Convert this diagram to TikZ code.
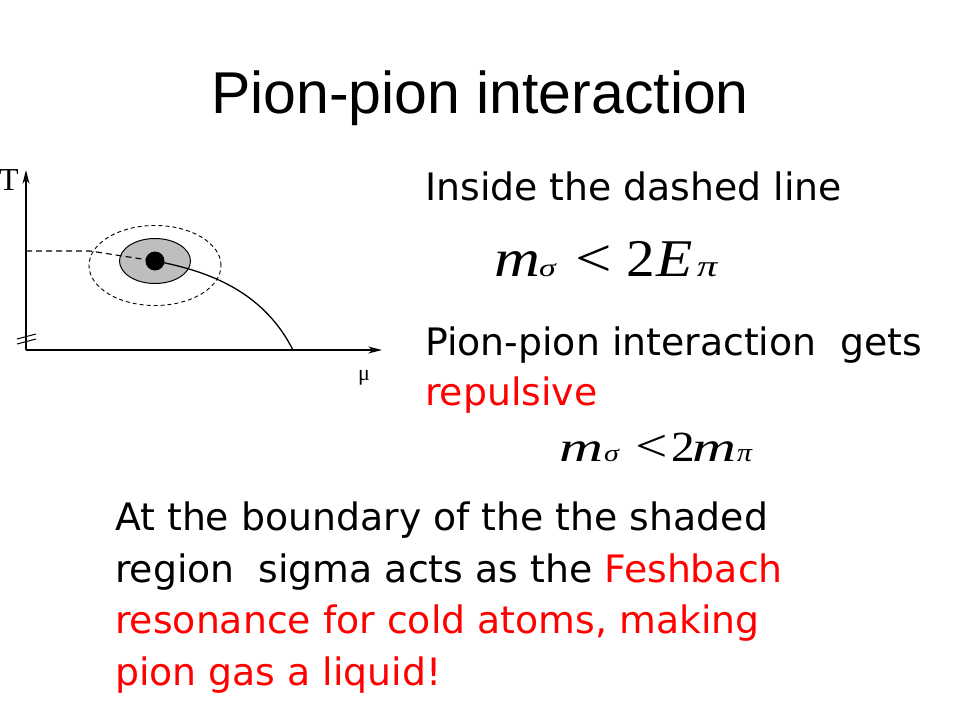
\documentclass[tikz,border=0pt]{standalone}
\usepackage{fontspec}
\usetikzlibrary{arrows.meta,shapes.geometric}
\setmainfont{Liberation Sans}
\newfontfamily\bodyfont{DejaVu Sans}
\newfontfamily\mathserif{Liberation Serif}
\definecolor{slidered}{RGB}{255,0,0}
\definecolor{shadegray}{RGB}{190,190,190}
\newcommand{\gl}[2]{\scalebox{#1}[1]{#2}}
\newcommand{\fsz}[1]{\fontsize{#1}{#1}\selectfont}
\begin{document}
\begin{tikzpicture}[x=1pt,y=-1pt,
  body/.style={anchor=base west,inner sep=0pt,font=\bodyfont\fontsize{37.8}{45}\selectfont},
  redbody/.style={body,text=slidered},
  eqit/.style={anchor=base west,inner sep=0pt,font=\mathserif\itshape},
  equp/.style={anchor=base west,inner sep=0pt,font=\mathserif},
  axis/.style={line width=1.3pt,-{Stealth[length=14pt,width=7pt]}},
  thin dash/.style={line width=0.9pt,dash pattern=on 4pt off 3pt}]
\useasboundingbox (0,0) rectangle (960,720);

% title
\node[anchor=base,inner sep=0pt,font=\fontsize{59}{66}\selectfont] (title) at (480,113) {Pion-pion interaction};

% diagram
\coordinate (origin) at (26,350);
\coordinate (ytip) at (26,170);
\coordinate (xtip) at (382,350);
\draw[axis] (origin) -- (ytip);
\draw[axis] (origin) -- (xtip);
\node[inner sep=0pt,font=\mathserif\fontsize{32}{36}\selectfont] (Tlab) at (9,180) {T};
\node[anchor=base,inner sep=0pt,font=\mathserif\fontsize{22}{26}\selectfont] (mulab) at (364,380) {μ};
\coordinate (s1a) at (17,339); \coordinate (s1b) at (36,334);
\coordinate (s2a) at (17,344); \coordinate (s2b) at (36,339);
\draw[line width=1pt] (s1a) -- (s1b);
\draw[line width=1pt] (s2a) -- (s2b);

\node[draw,line width=1pt,fill=shadegray,ellipse,minimum width=71pt,minimum height=45pt,inner sep=0pt] (shade) at (155,261) {};
\node[draw,thin dash,ellipse,minimum width=132pt,minimum height=80pt,inner sep=0pt] (dashed) at (155,265.5) {};
\node[circle,fill=black,minimum size=19pt,inner sep=0pt] (cp) at (155,261) {};

\coordinate (dstart) at (26,251);
\coordinate (dbend) at (90,251);
\draw[line width=1.1pt,dash pattern=on 6pt off 4pt] (dstart) -- (dbend) -- (cp.center);
\coordinate (xend) at (293,350);
\draw[line width=1.3pt] (cp.center) .. controls (215,272) and (265,295) .. (xend);

% right text
\node[body] (inside) at (425,200) {Inside the dashed line};
% equation 1: m_sigma < 2 E_pi
\node[eqit] (e1m) at (494,276) {\fsz{53}\gl{1.2}{m}};
\node[eqit] (e1s) at (539,276) {\fsz{25}\gl{1.35}{σ}};
\node[equp] (e1lt) at (575,276) {\fsz{54}\gl{1.2}{<}};
\node[equp] (e1two) at (626,276) {\fsz{53}\gl{1.08}{2}};
\node[eqit] (e1E) at (656,276) {\fsz{53}\gl{1.12}{E}};
\node[eqit] (e1p) at (697,276) {\fsz{30}\gl{1.35}{π}};

\node[body] (gets) at (425,355) {Pion-pion interaction\ \ gets};
\node[redbody] (rep) at (425,405) {repulsive};
% equation 2: m_sigma < 2 m_pi
\node[eqit] (e2m) at (559,461) {\fsz{42}\gl{1.45}{m}};
\node[eqit] (e2s) at (604,461) {\fsz{24}\gl{1.25}{σ}};
\node[equp] (e2lt) at (635,461) {\fsz{46}\gl{1.25}{<}};
\node[equp] (e2two) at (671,461) {\fsz{43}\gl{1.1}{2}};
\node[eqit] (e2m2) at (692,461) {\fsz{42}\gl{1.45}{m}};
\node[eqit] (e2p) at (737,461) {\fsz{26}\gl{1.15}{π}};

% bottom text
\node[body] (l1) at (115,530) {At the boundary of the the shaded};
\node[body] (l2) at (115,582) {region\ \ sigma acts as the \textcolor{slidered}{Feshbach}};
\node[redbody] (l3) at (115,633) {resonance for cold atoms, making};
\node[redbody] (l4) at (115,685) {pion gas a liquid!};
\end{tikzpicture}
\end{document}
